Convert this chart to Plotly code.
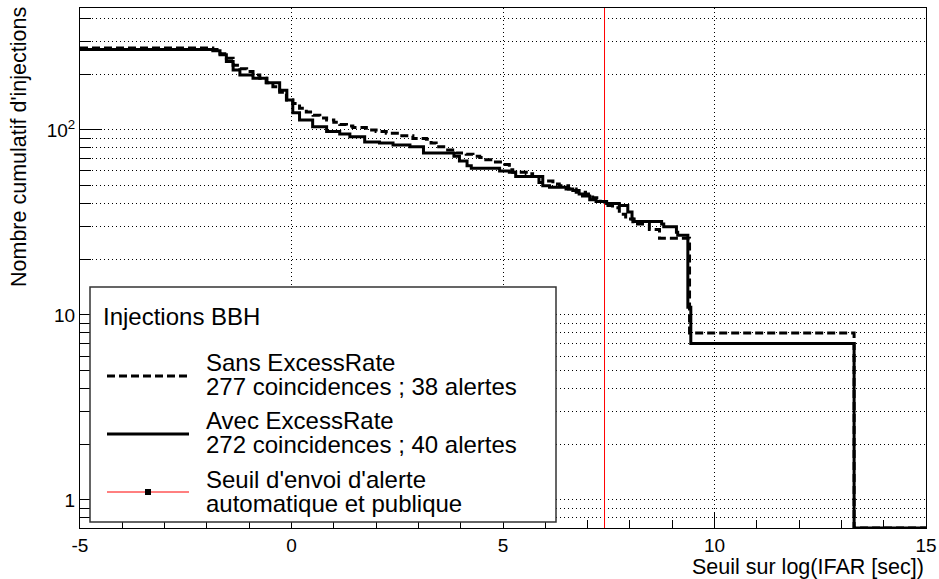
import plotly.graph_objects as go

# ---------------- data ----------------
# Cumulative number of injections vs threshold on log(IFAR [sec]) (step curves, value after each x)
avec_x = [-5, -1.86, -1.69, -1.54, -1.38, -1.22, -0.91, -0.58, -0.28, -0.11, 0.03, 0.19, 0.50,
          0.83, 1.14, 1.38, 1.73, 2.08, 2.40, 2.80, 3.12, 3.84, 3.97, 4.15, 4.25, 4.92, 5.15,
          5.30, 5.85, 5.94, 6.10, 6.49, 6.65, 6.80, 6.88, 7.05, 7.20, 7.45, 7.75, 7.95, 8.05,
          8.10, 8.75, 8.80, 9.10, 9.13, 9.37, 9.44, 13.30, 15]
avec_y = [272, 268, 255, 234, 211, 198, 190, 180, 164, 145, 124, 113, 104,
          98, 95, 92, 86, 85, 83, 81, 75, 72, 68, 64, 62, 60, 59,
          56, 52, 50, 49, 48, 47, 45, 44, 42, 41, 40, 39, 36, 33,
          32, 31, 30, 28, 27, 11, 7, 0, 0]

sans_x = [-5, -1.86, -1.69, -1.54, -1.38, -1.22, -1.06, -0.91, -0.75, -0.60, -0.44, -0.28, -0.12,
          0.03, 0.19, 0.35, 0.51, 0.67, 0.83, 1.00, 1.14, 1.30, 1.45, 1.77, 2.00, 2.24, 2.55,
          2.87, 3.19, 3.30, 3.42, 3.65, 3.89, 4.13, 4.29, 4.45, 4.52, 4.75, 5.00, 5.15, 5.23,
          5.55, 5.70, 5.94, 6.18, 6.33, 6.55, 6.73, 6.95, 7.12, 7.30, 7.40, 7.59, 7.75, 7.90,
          8.07, 8.46, 8.70, 9.41, 13.30, 15]
sans_y = [277, 272, 258, 244, 224, 214, 207, 198, 190, 180, 171, 160, 145,
          139, 131, 125, 120, 116, 113, 110, 107, 105, 103, 100, 98, 96, 93,
          90, 89, 85, 81, 78, 75, 74, 72, 71, 69, 67, 65, 61, 59,
          58, 56, 53, 51, 50, 48, 46, 45, 43, 41, 39, 38, 35, 33,
          31, 29, 26, 8, 0, 0]

alert_threshold = 7.4

x_tick_vals = [-5, 0, 5, 10, 15]
x_tick_text = ["-5", "0", "5", "10", "15"]
y_tick_vals = [1, 10, 100]
y_tick_text = ["1", "10", "10<sup>2</sup>"]

legend_header = "Injections BBH"
legend_sans = ["Sans ExcessRate", "277 coincidences ; 38 alertes"]
legend_avec = ["Avec ExcessRate", "272 coincidences ; 40 alertes"]
legend_seuil = ["Seuil d'envoi d'alerte", "automatique et publique"]

x_title = "Seuil sur log(IFAR [sec])"
y_title = "Nombre cumulatif d'injections"

# ---------------- layout geometry ----------------
W, H = 939, 579
ML, MR, MT, MB = 80, 13, 8, 51
PW, PH = W - ML - MR, H - MT - MB
Y_LOG_RANGE = [-0.1514, 2.659]
Y_MIN = 10 ** Y_LOG_RANGE[0]
FONT = "Liberation Sans, Arial, Helvetica, sans-serif"
LEG_SIZE = 24


def px(xp):
    return (xp - ML) / PW


def py(yp):
    return (H - MB - yp) / PH


def clip(vals):
    return [v if v > 0 else Y_MIN for v in vals]


fig = go.Figure()

fig.add_trace(go.Scatter(x=[alert_threshold, alert_threshold], y=[Y_MIN, 10 ** Y_LOG_RANGE[1]],
                         mode="lines", line=dict(color="#ff0000", width=1), hoverinfo="skip"))
fig.add_trace(go.Scatter(x=sans_x, y=clip(sans_y), mode="lines", line_shape="hv",
                         line=dict(color="black", width=3, dash="8px,4px")))
fig.add_trace(go.Scatter(x=avec_x, y=clip(avec_y), mode="lines", line_shape="hv",
                         line=dict(color="black", width=3)))

grid_dash = "1px,3px"
fig.update_layout(
    width=W, height=H,
    margin=dict(l=ML, r=MR, t=MT, b=MB, autoexpand=False),
    paper_bgcolor="white", plot_bgcolor="white",
    showlegend=False,
    font=dict(family=FONT, color="black", size=19),
    xaxis=dict(
        range=[-5, 15], tickmode="array", tickvals=x_tick_vals, ticktext=x_tick_text,
        ticks="inside", ticklen=16, tickwidth=1, tickcolor="black", automargin=False,
        ticklabelstandoff=0,
        showgrid=True, gridcolor="black", gridwidth=1, griddash=grid_dash,
        minor=dict(tickvals=[v for v in range(-4, 15) if v % 5 != 0], ticks="inside",
                   ticklen=8, tickwidth=1, tickcolor="black", showgrid=False),
        showline=True, mirror=True, linecolor="black", linewidth=1, zeroline=False,
        tickfont=dict(size=19),
    ),
    yaxis=dict(
        type="log", range=Y_LOG_RANGE, tickmode="array", tickvals=y_tick_vals, ticktext=y_tick_text,
        ticks="inside", ticklen=22, tickwidth=1, tickcolor="black", automargin=False,
        showgrid=True, gridcolor="black", gridwidth=1, griddash=grid_dash,
        minor=dict(tickvals=[0.8, 0.9] + list(range(2, 10)) + list(range(20, 100, 10)) + [200, 300, 400],
                   ticks="inside", ticklen=11, tickwidth=1, tickcolor="black",
                   showgrid=True, gridcolor="black", gridwidth=1, griddash=grid_dash),
        showline=True, mirror=True, linecolor="black", linewidth=1, zeroline=False,
        tickfont=dict(size=19),
    ),
)

# legend box
shapes = [
    dict(type="rect", xref="paper", yref="paper", x0=px(90), x1=px(556), y0=py(522), y1=py(287),
         fillcolor="white", line=dict(color="#333333", width=1.5), layer="above"),
    dict(type="line", xref="paper", yref="paper", x0=px(107), x1=px(189), y0=py(376), y1=py(376),
         line=dict(color="black", width=3, dash="8px,4px"), layer="above"),
    dict(type="line", xref="paper", yref="paper", x0=px(107), x1=px(189), y0=py(434), y1=py(434),
         line=dict(color="black", width=3), layer="above"),
    dict(type="line", xref="paper", yref="paper", x0=px(107), x1=px(189), y0=py(492), y1=py(492),
         line=dict(color="#ff0000", width=1), layer="above"),
    dict(type="rect", xref="paper", yref="paper", x0=px(145), x1=px(151), y0=py(495), y1=py(489),
         fillcolor="black", line=dict(color="black", width=0), layer="above"),
]
fig.update_layout(shapes=shapes)

ann = []


def text(t, x, y, xanchor="left", size=LEG_SIZE, angle=0):
    ann.append(dict(text=t, xref="paper", yref="paper", x=px(x), y=py(y), xanchor=xanchor,
                    yanchor="middle", showarrow=False, textangle=angle,
                    font=dict(family=FONT, size=size, color="black")))


text(legend_header, 101, 316)
text(legend_sans[0], 204, 362)
text(legend_sans[1], 204, 386)
text(legend_avec[0], 204, 420)
text(legend_avec[1], 204, 444)
text(legend_seuil[0], 204, 479)
text(legend_seuil[1], 204, 503)
text(x_title, 926, 567, xanchor="right", size=21.5)
ann.append(dict(text=y_title, xref="paper", yref="paper", x=px(19), y=py(5), xanchor="center",
                yanchor="top", showarrow=False, textangle=-90,
                font=dict(family=FONT, size=21.5, color="black")))
fig.update_layout(annotations=ann)

fig.write_html("out.html", config={"displayModeBar": False},
               post_script="document.body.style.margin='0';document.body.style.padding='0';")
